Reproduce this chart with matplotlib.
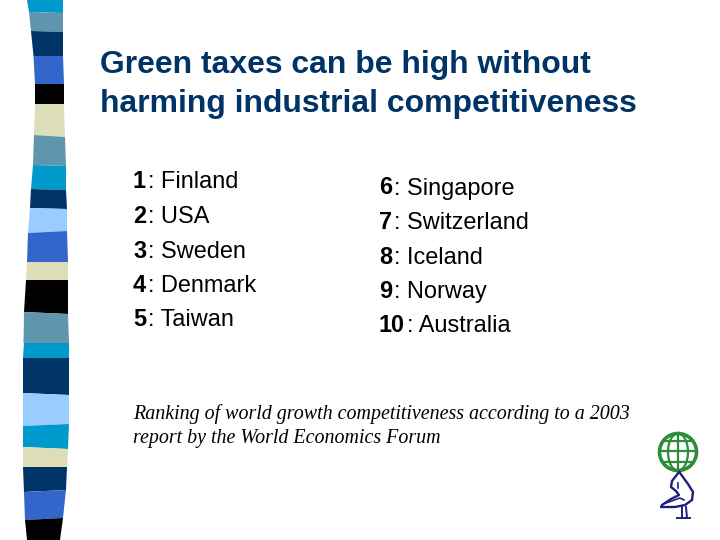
import numpy as np
import matplotlib.pyplot as plt
from matplotlib.patches import Circle, Ellipse

title_lines = ["Green taxes can be high without", "harming industrial competitiveness"]
left_nums = ["1", "2", "3", "4", "5"]
left_names = ["Finland", "USA", "Sweden", "Denmark", "Taiwan"]
right_nums = ["6", "7", "8", "9", "10"]
right_names = ["Singapore", "Switzerland", "Iceland", "Norway", "Australia"]
note_lines = ["Ranking of world growth competitiveness according to a 2003",
              "report by the World Economics Forum"]

# strip down the left side, pixel coords
band_y_left = [0, 12, 31, 56, 84, 104, 135, 165, 189, 208, 233, 262, 280, 312, 343, 358, 393, 426, 447, 467, 492, 520, 540]
band_y_right = [0, 13, 32, 56, 84, 104, 137, 166, 190, 209, 231, 262, 280, 314, 343, 358, 395, 424, 449, 467, 490, 518, 540]
edge_left = [27, 29, 31, 33.5, 35, 35, 34, 33, 31, 30, 28, 27, 26, 24, 23.5, 23, 23, 23, 23, 23, 24, 25, 27]
edge_right = [63, 63, 63, 63, 64, 64, 65, 66, 66, 67, 67, 68, 68, 68, 69, 69, 69, 69, 68, 67, 66, 63, 60]
band_colors = ["#0099cc", "#5f96ae", "#003366", "#3366cc", "#000000", "#ddddb8", "#5f96ae",
               "#0099cc", "#003366", "#99ccff", "#3366cc", "#ddddb8", "#000000", "#5f96ae",
               "#0099cc", "#003366", "#99ccff", "#0099cc", "#ddddb8", "#003366", "#3366cc", "#000000"]

fig = plt.figure(figsize=(7.2, 5.4), dpi=100)
ax = fig.add_axes([0, 0, 1, 1])
ax.set_xlim(0, 720)
ax.set_ylim(540, 0)
ax.axis("off")

for i, c in enumerate(band_colors):
    ax.fill([edge_left[i], edge_right[i], edge_right[i+1], edge_left[i+1]],
            [band_y_left[i], band_y_right[i], band_y_right[i+1], band_y_left[i+1]],
            color=c, lw=0)

sans = "Liberation Sans"
for i, s in enumerate(title_lines):
    ax.text(100, 73.5 + i*38.5, s, family=sans, weight="bold", fontsize=22.95,
            color="#003366", va="baseline")


def numbered(x, y0, nums, names):
    r = fig.canvas.get_renderer()
    for i in range(len(nums)):
        y = y0 + i*34.5
        t = ax.text(x, y, nums[i], family=sans, weight="bold", fontsize=16.95, va="baseline")
        x1 = ax.transData.inverted().transform(t.get_window_extent(r).get_points())[1, 0]
        ax.text(x1 + 2, y, ": " + names[i], family=sans, fontsize=16.95, va="baseline")


numbered(133, 188.5, left_nums, left_names)
numbered(379, 194.5, right_nums, right_names)

for i, s in enumerate(note_lines):
    ax.text(133, 418.5 + i*24, s, family="Liberation Serif", style="italic", fontsize=14.45, va="baseline")

# logo: globe
green = "#2e8b3a"
ax.add_patch(Circle((678, 452), 18.5, fill=False, ec=green, lw=2.6))
ax.add_patch(Ellipse((678, 452), 20, 37, fill=False, ec=green, lw=1.6))
ax.plot([678, 678], [433, 471], color=green, lw=1.6)
for yy, half in [(441, 15), (451, 18.5), (462, 15)]:
    ax.plot([678 - half, 678 + half], [yy, yy], color=green, lw=1.6)

# logo: figure under the globe
navy = "#1f1f80"
ax.plot([679, 672, 671, 676, 679, 671, 662, 661, 675, 685, 692, 693, 688, 680],
        [472, 481, 487, 491, 495, 499, 505, 507, 507, 505, 500, 492, 484, 473], color=navy, lw=1.7)
ax.plot([666, 680, 684], [503, 498, 500], color=navy, lw=1.2)
ax.plot([678, 678], [483, 488], color=navy, lw=1.2)
ax.plot([682, 682], [507, 518], color=navy, lw=1.4)
ax.plot([686, 687], [507, 518], color=navy, lw=1.4)
ax.plot([677, 690], [518, 518], color=navy, lw=1.4)

fig.savefig("out.png", dpi=100)
